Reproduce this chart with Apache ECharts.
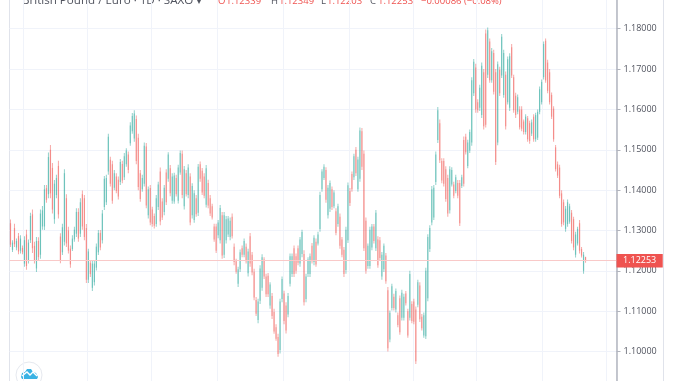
<!DOCTYPE html>
<html><head><meta charset="utf-8">
<style>html,body{margin:0;padding:0;background:#fff;overflow:hidden;width:678px;height:381px}#c{position:absolute;left:0;top:-20px;width:678px;height:430px;filter:blur(.3px)}</style>
<script src="https://cdn.jsdelivr.net/npm/echarts@6/dist/echarts.min.js"></script>
</head><body><div id="c"></div>
<script>
// prices in 1/10000 units
const opens=[
11318,11252,11306,11258,11286,11250,11257,11218,11290,11226,11276,11340,
11262,11206,11274,11240,11310,11310,11405,11390,11500,11455,11328,11388,
11460,11285,11246,11272,11380,11300,11255,11254,11278,11292,11346,11292,
11390,11380,11306,11178,11220,11158,11172,11208,11246,11294,11276,11358,
11370,11446,11475,11464,11406,11434,11426,11420,11465,11432,11464,11488,
11516,11546,11528,11576,11530,11442,11402,11416,11508,11338,11405,11352,
11336,11316,11358,11446,11372,11346,11444,11428,11454,11374,11372,11430,
11374,11444,11490,11360,11442,11388,11434,11338,11326,11380,11344,11464,
11448,11434,11364,11418,11380,11360,11310,11310,11288,11276,11338,11240,
11276,11290,11284,11334,11260,11224,11168,11204,11256,11240,11260,11194,
11286,11240,11198,11128,11078,11126,11158,11228,11186,11188,11114,11138,
11098,11060,11036,11004,11130,11144,11114,11092,11168,11192,11256,11236,
11256,11218,11242,11242,11130,11192,11192,11262,11222,11272,11268,11304,
11402,11430,11450,11338,11354,11402,11360,11348,11316,11334,11278,11252,
11202,11276,11398,11440,11432,11500,11402,11428,11546,11490,11324,11212,
11212,11258,11310,11256,11278,11276,11186,11204,11238,11152,11030,11108,
11136,11104,11090,11132,11084,11084,11144,11100,11084,11118,11124,11104,
11116,11164,11086,11040,11038,11132,11254,11320,11332,11420,11524,
11566,11472,11472,11452,11430,11350,11414,11414,11398,11418,11418,11410,
11524,11532,11460,11498,11518,11640,11704,11618,11604,11586,11692,11788,
11686,11768,11672,11740,11692,11518,11698,11684,11636,11686,11618,11604,
11754,11680,11634,11594,11600,11600,11570,11544,11578,11566,11540,11582,
11526,11530,11594,11618,11680,11770,11716,11692,11636,11602,11506,11464,
11456,11392,11370,11304,11316,11322,11344,11328,11240,11268,11318,11254,11200,11233.9];
const closes=[
11265,11270,11266,11274,11248,11280,11246,11276,11212,11270,11336,11256,
11226,11274,11234,11342,11350,11402,11376,11482,11392,11352,11416,11430,
11340,11226,11308,11442,11268,11250,11216,11280,11302,11346,11280,11370,
11310,11284,11178,11248,11192,11218,11218,11260,11294,11258,11342,11428,
11430,11532,11416,11374,11442,11398,11384,11470,11424,11484,11498,11450,
11560,11584,11590,11472,11408,11378,11430,11510,11362,11402,11320,11316,
11312,11380,11414,11322,11332,11406,11370,11488,11392,11434,11436,11390,
11456,11492,11388,11452,11390,11456,11320,11410,11392,11340,11458,11428,
11394,11386,11454,11362,11342,11332,11278,11250,11320,11356,11238,11338,
11328,11330,11324,11286,11222,11198,11204,11246,11240,11274,11224,11248,
11218,11196,11134,11094,11124,11206,11234,11186,11142,11142,11166,11088,
11050,11032,10994,11124,11180,11076,11052,11138,11236,11236,11192,11200,
11220,11278,11296,11122,11186,11228,11236,11224,11282,11216,11290,11388,
11446,11458,11376,11406,11418,11358,11394,11294,11360,11262,11240,11192,
11302,11412,11368,11402,11484,11442,11476,11548,11458,11256,11200,11262,
11302,11310,11274,11344,11214,11232,11240,11262,11174,11008,11096,11162,
11108,11150,11066,11048,11146,11136,11120,11040,11192,11076,11074,10976,
11172,11080,11058,11090,11200,11284,11306,11402,11406,11488,11598,
11474,11424,11416,11378,11342,11452,11450,11386,11432,11386,11318,11432,
11416,11494,11518,11544,11672,11718,11600,11598,11654,11708,11558,11562,
11796,11672,11744,11644,11470,11712,11640,11780,11740,11558,11724,11732,
11684,11598,11586,11630,11556,11552,11544,11582,11526,11522,11568,11526,
11586,11594,11650,11668,11762,11672,11646,11618,11582,11526,11452,11436,
11386,11316,11320,11354,11370,11360,11274,11258,11290,11304,11250,11238,11240,11225.3];
const lows=[
11259,11247,11259,11251,11241,11243,11241,11210,11203,11218,11269,11244,
11218,11197,11226,11230,11302,11301,11369,11380,11380,11342,11317,11380,
11330,11219,11239,11263,11259,11243,11208,11249,11272,11284,11272,11284,
11302,11276,11170,11170,11185,11150,11164,11201,11239,11251,11268,11351,
11363,11438,11409,11366,11400,11392,11377,11413,11417,11425,11458,11442,
11510,11540,11520,11464,11400,11371,11396,11409,11355,11330,11313,11309,
11305,11309,11351,11313,11326,11338,11363,11421,11385,11366,11366,11384,
11367,11438,11380,11352,11384,11380,11313,11330,11319,11334,11336,11421,
11388,11380,11357,11355,11336,11327,11272,11244,11281,11268,11230,11232,
11268,11284,11276,11280,11214,11193,11160,11197,11234,11234,11218,11186,
11210,11189,11127,11088,11070,11118,11151,11180,11135,11135,11106,11081,
11044,11027,10987,10995,11122,11068,11045,11085,11161,11185,11185,11193,
11214,11210,11234,11114,11122,11185,11185,11218,11214,11210,11263,11297,
11396,11425,11369,11330,11346,11351,11355,11288,11309,11255,11234,11185,
11193,11269,11361,11396,11425,11435,11396,11421,11450,11249,11193,11205,
11205,11251,11268,11249,11208,11226,11178,11197,11168,11000,11023,11102,
11102,11097,11060,11042,11077,11077,11114,11034,11077,11070,11068,10969,
11110,11073,11052,11034,11031,11125,11247,11313,11326,11413,11517,
11467,11417,11409,11371,11334,11342,11409,11380,11392,11380,11311,11405,
11409,11488,11454,11492,11510,11633,11592,11592,11596,11579,11550,11555,
11678,11666,11666,11637,11462,11511,11633,11678,11629,11550,11612,11596,
11678,11592,11579,11588,11550,11546,11538,11538,11520,11515,11534,11520,
11520,11524,11588,11612,11674,11666,11640,11612,11576,11520,11446,11430,
11380,11309,11313,11297,11309,11317,11268,11251,11233,11263,11243,11233,11193,11220.3];
const highs=[
11327,11276,11317,11280,11294,11288,11263,11286,11302,11278,11344,11352,
11272,11284,11283,11352,11361,11413,11413,11493,11512,11467,11425,11438,
11473,11293,11317,11452,11390,11309,11263,11288,11309,11355,11355,11380,
11399,11388,11316,11255,11226,11226,11226,11268,11301,11301,11351,11435,
11438,11540,11483,11473,11450,11442,11434,11477,11473,11492,11504,11496,
11568,11591,11598,11585,11540,11450,11438,11518,11517,11409,11413,11359,
11342,11388,11421,11456,11380,11413,11452,11494,11462,11442,11443,11438,
11463,11498,11498,11460,11450,11464,11442,11417,11400,11388,11465,11471,
11455,11442,11462,11426,11388,11366,11317,11317,11326,11363,11346,11346,
11336,11336,11332,11342,11268,11230,11210,11253,11263,11280,11268,11255,
11294,11247,11205,11135,11131,11214,11241,11234,11193,11195,11172,11145,
11106,11068,11044,11131,11186,11151,11122,11145,11243,11243,11263,11243,
11263,11284,11302,11251,11193,11234,11243,11269,11288,11280,11297,11396,
11452,11464,11457,11413,11424,11409,11400,11355,11366,11342,11284,11259,
11309,11419,11405,11446,11490,11507,11483,11555,11554,11498,11332,11268,
11309,11316,11316,11351,11286,11284,11247,11268,11244,11160,11102,11168,
11143,11156,11097,11139,11153,11143,11150,11106,11200,11125,11131,11112,
11178,11172,11093,11097,11208,11291,11313,11410,11413,11496,11606,
11575,11479,11479,11459,11438,11459,11457,11421,11438,11425,11425,11438,
11533,11540,11525,11550,11680,11725,11713,11625,11661,11716,11700,11798,
11803,11776,11752,11748,11700,11719,11706,11787,11748,11694,11731,11739,
11762,11686,11641,11637,11608,11608,11575,11588,11584,11572,11575,11588,
11592,11600,11657,11674,11768,11776,11723,11700,11642,11608,11512,11471,
11463,11400,11377,11361,11377,11366,11351,11334,11297,11309,11326,11259,11247,11234.9];
const lastPrice=11225.3;
const lastLabel='1.12253';
const timeGridBars=[7,39,71,104,137,170,202,234,267,299];
const slots=304;
const categories=Array.from({length:slots},(_,i)=>i);
const UP='#26a69a',DOWN='#ef5350',INK='#50535e';
const rows=opens.map((o,i)=>[i,o,closes[i],lows[i],highs[i]]);

function drawCandle(params,api){
  const i=api.value(0),o=api.value(1),c=api.value(2),l=api.value(3),h=api.value(4);
  const fill=c>=o?UP:DOWN;
  const pO=api.coord([i,o]),pC=api.coord([i,c]),pL=api.coord([i,l]),pH=api.coord([i,h]);
  const x=pO[0],bw=1.3,ww=1;
  return {type:'group',children:[
    {type:'rect',silent:true,shape:{x:x-ww/2,y:pH[1],width:ww,height:pL[1]-pH[1]},style:{fill:fill,opacity:.5}},
    {type:'rect',silent:true,shape:{x:x-bw/2,y:Math.min(pO[1],pC[1]),width:bw,height:Math.abs(pO[1]-pC[1])},style:{fill:fill,opacity:.38}}
  ]};
}

const chart=echarts.init(document.getElementById('c'),null,{renderer:'canvas'});
const hdrFont='"Open Sans",sans-serif';
function t(x,text,fill,size){return {type:'text',x:x,y:size>10?15:16,silent:true,style:{text:text,fill:fill,font:size+'px '+hdrFont}};}
chart.setOption({
 animation:false,
 backgroundColor:'#fff',
 grid:{left:9.5,top:8.34,width:607,height:403.6,containLabel:false},
 xAxis:{type:'category',data:categories,boundaryGap:true,
   axisLine:{show:false},axisTick:{show:false},axisLabel:{show:false},
   splitLine:{show:true,interval:(i)=>timeGridBars.includes(i),lineStyle:{color:'#f0f3fa',width:1}}},
 yAxis:{type:'value',position:'right',min:10900,max:11900,interval:100,
   axisLine:{show:true,lineStyle:{color:'#b2b5be',width:1.5}},
   axisTick:{show:true,length:4,lineStyle:{color:'#b2b5be'}},
   axisLabel:{margin:7,color:INK,fontSize:9,fontFamily:hdrFont,showMinLabel:false,showMaxLabel:false,formatter:v=>(v/10000).toFixed(5)},
   splitLine:{show:true,lineStyle:{color:'#f0f3fa',width:1}}},
 series:[{type:'custom',data:rows,renderItem:drawCandle,clip:false,encode:{x:0,y:[1,2,3,4]},
   markLine:{silent:true,symbol:'none',animation:false,precision:1,
     lineStyle:{color:'#f9c9c8',type:'solid',width:1},
     data:[{yAxis:lastPrice}],
     label:{show:true,position:'end',distance:0,formatter:lastLabel,color:'#fff',backgroundColor:DOWN,
       fontSize:9,fontFamily:hdrFont,padding:[0,6.5,0,6.5],lineHeight:13.5}}}],
 graphic:[
  {type:'line',silent:true,shape:{x1:9.5,y1:0,x2:9.5,y2:430},style:{stroke:'#e0e3eb',lineWidth:1}},
  {type:'line',silent:true,shape:{x1:663.5,y1:0,x2:663.5,y2:430},style:{stroke:'#e0e3eb',lineWidth:1}},
  t(22,'British Pound / Euro · 1D · SAXO ▾',INK,11.6),
  t(218,'O',DOWN,9.5),t(226,'1.12339',DOWN,9.5),
  t(271,'H',INK,9.5),t(279,'1.12349',DOWN,9.5),
  t(321,'L',INK,9.5),t(327,'1.12203',DOWN,9.5),
  t(370,'C',INK,9.5),t(378,'1.12253',DOWN,9.5),
  t(421,'−0.00086 (−0.08%)',DOWN,9.5),
  {type:'circle',silent:true,shape:{cx:29,cy:395,r:13},style:{fill:'#fff',stroke:'#e6e9ef',lineWidth:1}},
  {type:'polygon',silent:true,shape:{points:[[21,397],[22,393],[25,392],[27,389],[31,389],[33,392],[36,393],[38,397],[37,399],[22,399]]},style:{fill:'#3bb3e4'}},
  {type:'polyline',silent:true,shape:{points:[[22,396],[27,392],[30,395],[33,392],[37,396]]},style:{stroke:'#fff',lineWidth:1.4,fill:'none'}}
 ]
});
</script></body></html>
